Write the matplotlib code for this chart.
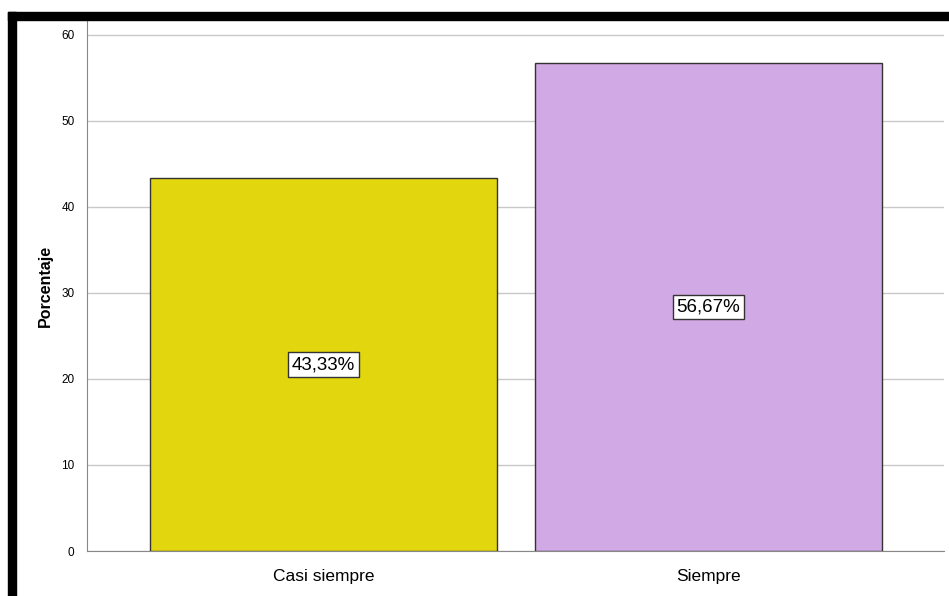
import matplotlib.pyplot as plt
from matplotlib.patches import Rectangle

plt.rcParams["font.family"] = ["Liberation Sans", "DejaVu Sans"]

categorias = ["Casi siempre", "Siempre"]
porcentajes = [43.33, 56.67]
etiquetas = ["43,33%", "56,67%"]
colores = ["#E2D60E", "#D1A9E4"]

fig = plt.figure(figsize=(9.49, 5.96), dpi=100)
ax = fig.add_axes([0.0917, 0.0755, 0.903, 0.891])

x = range(len(categorias))
ax.bar(x, porcentajes, width=0.9, color=colores, edgecolor="#333333", linewidth=1, zorder=3)
for xi, v, t in zip(x, porcentajes, etiquetas):
    ax.text(xi, v / 2, t, ha="center", va="center", fontsize=13.5,
            bbox=dict(facecolor="white", edgecolor="#333333", boxstyle="square,pad=0.2", linewidth=1),
            zorder=4)

ax.set_xlim(-0.614, 1.612)
ax.set_ylim(0, 61.7)
ax.set_yticks(range(0, 61, 10))
ax.set_xticks(list(x))
ax.set_xticklabels(categorias, fontsize=12.5)
ax.tick_params(axis="y", labelsize=8.5, length=0, pad=9)
ax.tick_params(axis="x", length=0, pad=13)
ax.yaxis.grid(True, color="#C8C8C8", linewidth=1, zorder=0)
ax.set_ylabel("Porcentaje", fontsize=11.5, fontweight="bold", labelpad=6)
for s in ["top", "right"]:
    ax.spines[s].set_visible(False)
for s in ["left", "bottom"]:
    ax.spines[s].set_color("#888888")

# marco negro
fig.patches.append(Rectangle((8 / 949, 0), 8 / 949, 1 - 12 / 596, transform=fig.transFigure,
                             color="black", zorder=10))
fig.patches.append(Rectangle((8 / 949, 1 - 20 / 596), 1, 8 / 596, transform=fig.transFigure,
                             color="black", zorder=10))

fig.savefig("out.png", dpi=100)
